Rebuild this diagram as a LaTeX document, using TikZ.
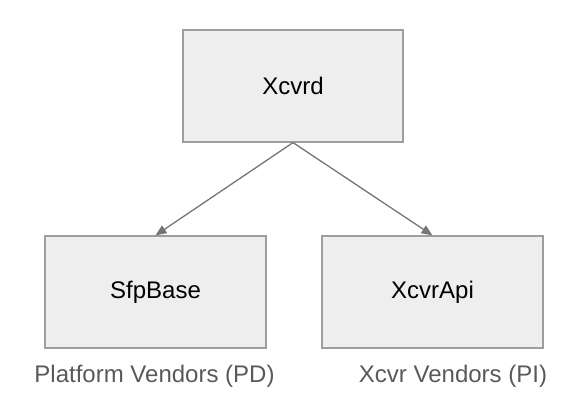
\documentclass[tikz,border=0pt]{standalone}
\usepackage{fontspec}
\setmainfont{Liberation Sans}
\usetikzlibrary{arrows.meta}
\definecolor{boxfill}{HTML}{EEEEEE}
\definecolor{boxline}{HTML}{9E9E9E}
\definecolor{linkgray}{HTML}{757575}
\definecolor{notegray}{HTML}{595959}
\tikzset{
  module/.style={draw=boxline, line width=1.2pt, fill=boxfill,
    minimum width=220pt, minimum height=112pt, inner sep=0pt,
    font=\fontsize{24}{28}\selectfont},
  note/.style={text=notegray, inner sep=0pt, font=\fontsize{24}{28}\selectfont},
  link/.style={draw=linkgray, line width=1.3pt,
    -{Triangle[length=11pt,width=9pt]}}
}
\begin{document}
\begin{tikzpicture}[x=1pt,y=-1pt]
    \useasboundingbox (0,0) rectangle (576,417);

    % boxes
    \node[module] (xcvrd) at (293,86) {Xcvrd};
    \node[module, minimum width=221pt] (sfpbase) at (155.5,292) {SfpBase};
    \node[module, minimum width=221pt] (xcvrapi) at (432.5,292) {XcvrApi};

    % vendor notes
    \node[note] (pd) at (154.5,376) {Platform Vendors (PD)};
    \node[note] (pi) at (453,376) {Xcvr Vendors (PI)};

    % arrows
    \draw[link] (xcvrd.south) -- (sfpbase.north);
    \draw[link] (xcvrd.south) -- (xcvrapi.north);
\end{tikzpicture}
\end{document}
